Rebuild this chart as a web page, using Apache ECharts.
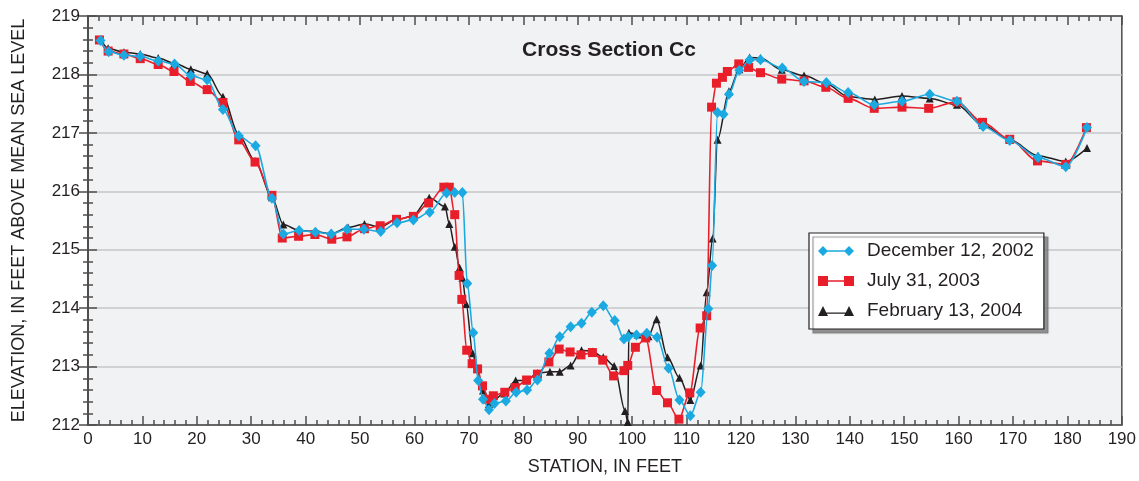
<!DOCTYPE html>
<html>
<head>
<meta charset="utf-8">
<script src="https://cdn.jsdelivr.net/npm/echarts@6/dist/echarts.min.js"></script>
<style>
html,body{margin:0;padding:0;background:#fff;}
#chart{width:1139px;height:481px;}
</style>
</head>
<body>
<div id="chart"></div>
<script>
// Station (ft) and elevation (ft) per survey
var decStation = [2.3, 3.8, 6.6, 9.6, 12.9, 15.9, 18.9, 21.9, 24.8, 27.7, 30.8, 33.8, 35.9, 38.8, 41.8, 44.7, 47.6, 50.7, 53.8, 56.8, 59.8, 62.8, 65.9, 67.4, 68.8, 69.7, 70.8, 71.7, 72.6, 73.7, 74.7, 76.8, 78.7, 80.7, 82.6, 84.8, 86.7, 88.7, 90.7, 92.6, 94.7, 96.8, 98.5, 99.3, 100.8, 102.7, 104.6, 106.7, 108.7, 110.7, 112.6, 114.0, 114.7, 115.7, 116.8, 117.8, 119.7, 121.6, 123.6, 127.6, 131.6, 135.7, 139.7, 144.5, 149.6, 154.7, 159.7, 164.5, 169.4, 174.6, 179.7, 183.6];
var decElev = [218.58, 218.39, 218.33, 218.31, 218.23, 218.18, 217.98, 217.91, 217.40, 216.95, 216.78, 215.88, 215.27, 215.33, 215.30, 215.27, 215.35, 215.35, 215.31, 215.46, 215.51, 215.64, 215.97, 215.98, 215.98, 214.42, 213.58, 212.76, 212.44, 212.26, 212.37, 212.41, 212.56, 212.60, 212.77, 213.23, 213.51, 213.68, 213.74, 213.93, 214.04, 213.79, 213.47, 213.51, 213.54, 213.57, 213.50, 212.97, 212.43, 212.16, 212.56, 213.99, 214.73, 217.35, 217.32, 217.66, 218.07, 218.25, 218.25, 218.11, 217.88, 217.86, 217.69, 217.48, 217.54, 217.66, 217.54, 217.11, 216.87, 216.58, 216.42, 217.09];

var julStation = [2.1, 3.7, 6.6, 9.6, 12.9, 15.8, 18.8, 21.9, 24.8, 27.7, 30.7, 33.8, 35.7, 38.7, 41.7, 44.8, 47.6, 50.8, 53.7, 56.7, 59.8, 62.6, 65.4, 66.4, 67.4, 68.2, 68.7, 69.6, 70.6, 71.6, 72.5, 73.6, 74.5, 76.6, 78.5, 80.6, 82.6, 84.7, 86.6, 88.6, 90.6, 92.7, 94.6, 96.6, 98.5, 99.2, 100.6, 102.5, 104.5, 106.5, 108.6, 110.6, 112.5, 113.7, 114.6, 115.5, 116.6, 117.5, 119.6, 121.4, 123.6, 127.5, 131.6, 135.6, 139.7, 144.5, 149.6, 154.5, 159.7, 164.4, 169.4, 174.5, 179.7, 183.5];
var julElev = [218.59, 218.40, 218.35, 218.27, 218.17, 218.05, 217.88, 217.74, 217.52, 216.88, 216.50, 215.93, 215.20, 215.23, 215.26, 215.18, 215.22, 215.36, 215.41, 215.52, 215.57, 215.80, 216.07, 216.07, 215.60, 214.56, 214.15, 213.28, 213.05, 212.96, 212.67, 212.44, 212.50, 212.56, 212.64, 212.77, 212.87, 213.08, 213.30, 213.25, 213.20, 213.24, 213.11, 212.84, 212.93, 213.02, 213.33, 213.49, 212.59, 212.38, 212.10, 212.55, 213.66, 213.87, 217.44, 217.85, 217.95, 218.05, 218.18, 218.12, 218.03, 217.92, 217.89, 217.78, 217.59, 217.42, 217.44, 217.42, 217.53, 217.18, 216.89, 216.52, 216.46, 217.09];

var febStation = [2.3, 3.7, 6.6, 9.6, 12.9, 15.9, 18.9, 21.9, 24.8, 27.7, 30.7, 33.8, 35.9, 38.8, 41.8, 44.7, 47.8, 50.8, 53.7, 56.8, 59.6, 62.7, 65.6, 66.4, 67.4, 68.3, 68.8, 69.5, 70.7, 71.5, 72.6, 73.7, 76.5, 78.6, 80.6, 82.6, 84.9, 86.7, 88.7, 90.7, 92.7, 94.7, 96.7, 98.7, 99.2, 99.4, 101.0, 103.0, 104.5, 106.5, 108.7, 110.7, 112.6, 113.7, 114.8, 115.7, 117.8, 119.7, 121.6, 123.6, 127.5, 131.6, 135.7, 139.7, 144.6, 149.6, 154.7, 159.7, 164.4, 169.4, 174.6, 179.7, 183.6];
var febElev = [218.60, 218.45, 218.38, 218.35, 218.28, 218.19, 218.09, 218.01, 217.62, 216.97, 216.52, 215.90, 215.43, 215.33, 215.31, 215.27, 215.38, 215.44, 215.39, 215.52, 215.57, 215.89, 215.74, 215.44, 215.05, 214.69, 214.52, 214.07, 213.23, 212.96, 212.59, 212.36, 212.54, 212.76, 212.76, 212.89, 212.91, 212.91, 213.02, 213.28, 213.26, 213.16, 213.01, 212.24, 212.05, 213.58, 213.55, 213.52, 213.81, 213.16, 212.81, 212.43, 213.02, 214.27, 215.19, 216.88, 217.71, 218.09, 218.29, 218.28, 218.08, 217.98, 217.84, 217.62, 217.57, 217.63, 217.59, 217.48, 217.14, 216.88, 216.61, 216.51, 216.74];

var seriesNames = ['December 12, 2002', 'July 31, 2003', 'February 13, 2004'];
var titleText = 'Cross Section Cc';
var xAxisName = 'STATION, IN FEET';
var yAxisName = 'ELEVATION, IN FEET ABOVE MEAN SEA LEVEL';

function zip(a, b) { return a.map(function (v, i) { return [v, b[i]]; }); }

var FONT = '"Liberation Sans", Arial, Helvetica, sans-serif';
var BLUE = '#1aa9e1', RED = '#e81f2b', BLACK = '#231f20';

var iconDiamond = 'path://M0,5L5,0L10,5L5,10Z M5,4.3L31,4.3L31,5.7L5,5.7Z M26,5L31,0L36,5L31,10Z';
var iconSquare = 'path://M0,0L10,0L10,10L0,10Z M10,4.3L26,4.3L26,5.7L10,5.7Z M26,0L36,0L36,10L26,10Z';
var iconTri = 'path://M0,10L5,0L10,10Z M5,6.4L31,6.4L31,7.8L5,7.8Z M26,10L31,0L36,10Z';

var axisLineStyle = { color: '#4d4d4d', width: 1.5 };

var chart = echarts.init(document.getElementById('chart'), null, { renderer: 'canvas' });
chart.setOption({
  animation: false,
  backgroundColor: '#ffffff',
  title: {
    text: titleText, left: 604, top: 35, textAlign: 'center',
    textStyle: { fontFamily: FONT, fontSize: 21, fontWeight: 'bold', color: '#231f20' }
  },
  grid: {
    left: 88, right: 17, top: 16, bottom: 55, show: true,
    backgroundColor: '#f1f2f4', borderColor: '#4d4d4d', borderWidth: 1.5
  },
  legend: {
    orient: 'vertical', left: 809, top: 233,
    data: [
      { name: seriesNames[0], icon: iconDiamond },
      { name: seriesNames[1], icon: iconSquare },
      { name: seriesNames[2], icon: iconTri }
    ],
    itemWidth: 36, itemHeight: 10, itemGap: 10,
    padding: [8, 10, 8, 9],
    backgroundColor: '#ffffff', borderColor: '#231f20', borderWidth: 1.2,
    shadowColor: 'rgba(120,120,120,0.8)', shadowOffsetX: 4, shadowOffsetY: 4, shadowBlur: 1,
    textStyle: { fontFamily: FONT, fontSize: 19, color: '#231f20', lineHeight: 20, padding: [0, 0, 0, 8] }
  },
  xAxis: [{
    type: 'value', min: 0, max: 190, interval: 10, position: 'bottom',
    name: xAxisName, nameLocation: 'middle', nameGap: 33,
    nameTextStyle: { fontFamily: FONT, fontSize: 18, color: '#231f20' },
    axisLine: { show: true, lineStyle: axisLineStyle },
    axisTick: { show: true, inside: true, length: 9, lineStyle: axisLineStyle },
    minorTick: { show: true, splitNumber: 5, length: 5, lineStyle: axisLineStyle },
    axisLabel: { fontFamily: FONT, fontSize: 17, color: '#231f20', margin: 6 },
    splitLine: { show: false }
  }, {
    type: 'value', min: 0, max: 190, interval: 10, position: 'top',
    axisLine: { show: true, lineStyle: axisLineStyle },
    axisTick: { show: true, inside: true, length: 9, lineStyle: axisLineStyle },
    minorTick: { show: true, splitNumber: 5, length: 5, lineStyle: axisLineStyle },
    axisLabel: { show: false }, splitLine: { show: false }
  }],
  yAxis: [{
    type: 'value', min: 212, max: 219, interval: 1, position: 'left',
    name: yAxisName, nameLocation: 'middle', nameGap: 60,
    nameTextStyle: { fontFamily: FONT, fontSize: 18, color: '#231f20' },
    axisLine: { show: true, lineStyle: axisLineStyle },
    axisTick: { show: true, inside: true, length: 9, lineStyle: axisLineStyle },
    minorTick: { show: true, splitNumber: 5, length: 5, lineStyle: axisLineStyle },
    axisLabel: { fontFamily: FONT, fontSize: 17, color: '#231f20', margin: 8 },
    splitLine: { show: true, lineStyle: { color: '#c5c6c8', width: 1.5 } }
  }, {
    type: 'value', min: 212, max: 219, interval: 1, position: 'right',
    axisLine: { show: true, lineStyle: axisLineStyle },
    axisTick: { show: true, inside: true, length: 9, lineStyle: axisLineStyle },
    minorTick: { show: true, splitNumber: 5, length: 5, lineStyle: axisLineStyle },
    axisLabel: { show: false }, splitLine: { show: false }
  }],
  series: [{
    name: seriesNames[0], type: 'line', z: 4, smooth: 0.3, smoothMonotone: 'x',
    data: zip(decStation, decElev),
    symbol: 'diamond', symbolSize: [10, 11],
    lineStyle: { color: BLUE, width: 1.6 }, itemStyle: { color: BLUE }
  }, {
    name: seriesNames[1], type: 'line', z: 3, smooth: 0.3, smoothMonotone: 'x',
    data: zip(julStation, julElev),
    symbol: 'rect', symbolSize: 9,
    lineStyle: { color: RED, width: 1.6 }, itemStyle: { color: RED }
  }, {
    name: seriesNames[2], type: 'line', z: 2, smooth: 0.3, smoothMonotone: 'x',
    data: zip(febStation, febElev),
    symbol: 'triangle', symbolSize: 8,
    lineStyle: { color: BLACK, width: 1.5 }, itemStyle: { color: BLACK }
  }]
});
</script>
</body>
</html>
